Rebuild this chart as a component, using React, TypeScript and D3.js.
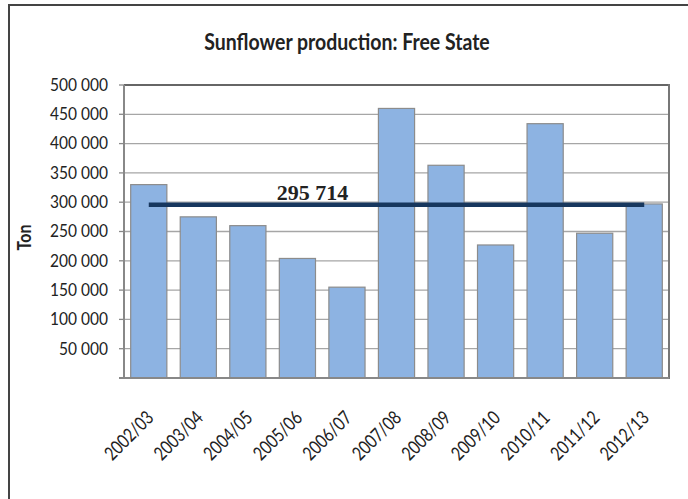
import * as d3 from "d3"

const seasons = [
  "2002/03", "2003/04", "2004/05", "2005/06", "2006/07", "2007/08",
  "2008/09", "2009/10", "2010/11", "2011/12", "2012/13",
]
// production in tons
const production = [
  330000, 275000, 260000, 204000, 155000, 460000,
  363000, 227000, 434000, 247000, 297000,
]
const average = 295714
const averageLabel = "295 714"
const yTicks = [50000, 100000, 150000, 200000, 250000, 300000, 350000, 400000, 450000, 500000]

const W = 688
const H = 499
const margin = { top: 85, right: 19, bottom: 121, left: 124 }

const fmt = (v: number) => d3.format(",")(v).replace(/,/g, " ")

const App = () => {
  const innerW = W - margin.left - margin.right
  const innerH = H - margin.top - margin.bottom

  const x = d3
    .scaleBand()
    .domain(seasons)
    .range([margin.left, margin.left + innerW])
    .paddingInner(0.27)
    .paddingOuter(0.135)

  const y = d3
    .scaleLinear()
    .domain([0, 500000])
    .range([margin.top + innerH, margin.top])

  const cx = (s: string) => (x(s) || 0) + x.bandwidth() / 2
  const bottom = margin.top + innerH
  const right = margin.left + innerW

  return (
    <div style={{ position: "absolute", left: 0, top: 0 }}>
      <svg width={W} height={H} style={{ display: "block", background: "#fff" }}>
        {/* outer frame (left and top only) */}
        <path d={`M9,${H} V5 H${W}`} fill="none" stroke="#444" strokeWidth={2} />

        <text
          transform="translate(347,49.5) scale(1,1.18)"
          textAnchor="middle"
          fontFamily="Lato, sans-serif"
          fontWeight="bold"
          fontSize={19.5}
          fill="#222"
        >
          Sunflower production: Free State
        </text>

        {/* gridlines */}
        {yTicks.map(t => (
          <line
            key={t}
            x1={margin.left}
            x2={right}
            y1={y(t)}
            y2={y(t)}
            stroke={t === 500000 ? "#333" : "#a6a6a6"}
            strokeWidth={t === 500000 ? 1.5 : 1.3}
          />
        ))}

        {/* y ticks and labels */}
        {yTicks.map(t => (
          <g key={`t${t}`}>
            <line x1={margin.left - 5} x2={margin.left} y1={y(t)} y2={y(t)} stroke="#888" strokeWidth={1.3} />
            <text
              transform={`translate(108,${y(t) + 5.8}) scale(1,1.08)`}
              textAnchor="end"
              fontFamily="Lato, sans-serif"
              fontSize={15.5}
              fill="#222"
            >
              {fmt(t)}
            </text>
          </g>
        ))}

        <text
          transform={`translate(31,${(margin.top + bottom) / 2 + 6}) rotate(-90) scale(1,1.15)`}
          textAnchor="middle"
          fontFamily="Lato, sans-serif"
          fontWeight="bold"
          fontSize={16}
          fill="#222"
        >
          Ton
        </text>

        {/* bars */}
        {seasons.map((s, i) => (
          <rect
            key={s}
            x={x(s)}
            y={y(production[i])}
            width={x.bandwidth()}
            height={bottom - y(production[i])}
            fill="#8db3e2"
            stroke="#8c8c8c"
            strokeWidth={1.2}
          />
        ))}

        {/* axes frame */}
        <line x1={margin.left} x2={margin.left} y1={margin.top} y2={bottom} stroke="#888" strokeWidth={2} />
        <line x1={right} x2={right} y1={margin.top - 1} y2={bottom + 1} stroke="#777" strokeWidth={2} />
        <line x1={margin.left - 5} x2={right} y1={bottom} y2={bottom} stroke="#888" strokeWidth={2} />

        {/* average line */}
        <line
          x1={cx(seasons[0])}
          x2={cx(seasons[seasons.length - 1])}
          y1={y(average)}
          y2={y(average)}
          stroke="#17375e"
          strokeWidth={4.5}
        />
        <text
          x={cx(seasons[3]) + 15}
          y={y(average) - 5}
          textAnchor="middle"
          fontFamily="'Liberation Serif', serif"
          fontWeight="bold"
          fontSize={22}
          fill="#222"
        >
          {averageLabel}
        </text>

        {/* x labels */}
        {seasons.map(s => (
          <text
            key={`l${s}`}
            transform={`translate(${cx(s) + 6},${bottom + 41}) rotate(-45) scale(0.9,1.12)`}
            textAnchor="end"
            fontFamily="Lato, sans-serif"
            fontSize={17}
            fill="#222"
          >
            {s}
          </text>
        ))}
      </svg>
    </div>
  )
}

export default App
